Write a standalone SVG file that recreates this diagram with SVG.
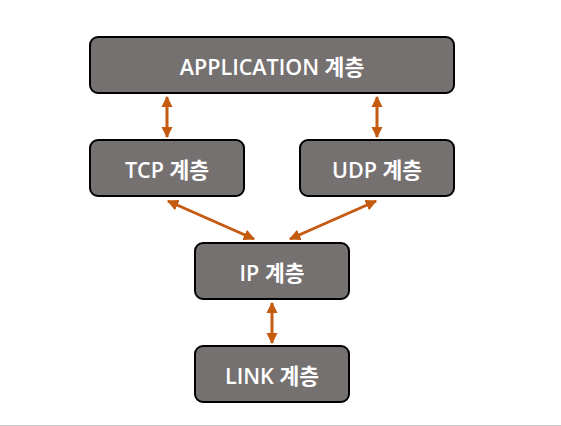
<svg xmlns="http://www.w3.org/2000/svg" width="561" height="426" viewBox="0 0 561 426">
<style>
.box{fill:#767171;stroke:#000;stroke-width:2}
.lbl{fill:#fff;font-family:"Open Sans","Noto Sans CJK KR",sans-serif;font-weight:600;font-size:21.5px;text-anchor:middle;dominant-baseline:central}
.arr{stroke:#C55A11;stroke-width:3;fill:none;marker-start:url(#ah);marker-end:url(#ah)}
</style>
<defs>
<marker id="ah" viewBox="0 0 10 10" refX="9" refY="5" markerWidth="3.8" markerHeight="3.8" orient="auto-start-reverse" markerUnits="strokeWidth">
<path d="M0,0 L10,5 L0,10 z" fill="#C55A11"/>
</marker>
</defs>
<rect x="0" y="0" width="561" height="426" fill="#fff"/>
<line x1="0" y1="425.5" x2="561" y2="425.5" stroke="#c8c8c8" stroke-width="1"/>
<g id="connectors">
<line class="arr" x1="167" y1="97" x2="167" y2="137"/>
<line class="arr" x1="377" y1="97" x2="377" y2="137"/>
<line class="arr" x1="168" y1="201" x2="254" y2="239"/>
<line class="arr" x1="376" y1="201" x2="290" y2="239"/>
<line class="arr" x1="272" y1="303" x2="272" y2="343"/>
</g>
<g id="app"><rect class="box" x="90" y="37" width="364" height="56" rx="8"/><text class="lbl" x="272" y="66">APPLICATION 계층</text></g>
<g id="tcp"><rect class="box" x="90" y="140" width="154" height="56" rx="8"/><text class="lbl" x="167" y="169">TCP 계층</text></g>
<g id="udp"><rect class="box" x="300" y="140" width="154" height="56" rx="8"/><text class="lbl" x="377" y="169">UDP 계층</text></g>
<g id="ip"><rect class="box" x="195" y="243" width="154" height="56" rx="8"/><text class="lbl" x="272" y="272">IP 계층</text></g>
<g id="link"><rect class="box" x="195" y="346" width="154" height="56" rx="8"/><text class="lbl" x="272" y="375">LINK 계층</text></g>
</svg>
